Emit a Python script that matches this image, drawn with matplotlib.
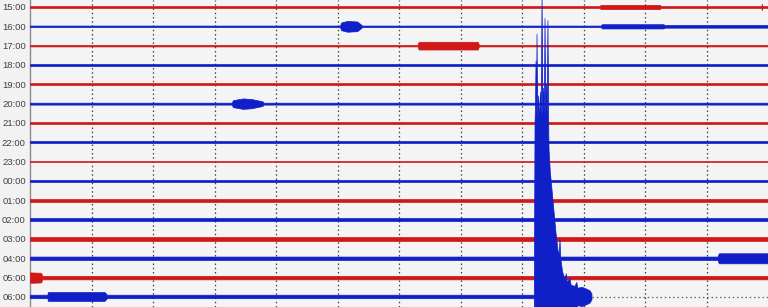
import matplotlib
matplotlib.use("Agg")
import matplotlib.pyplot as plt

# one helicorder line per hour, top to bottom
hours = ['15:00', '16:00', '17:00', '18:00', '19:00', '20:00', '21:00', '22:00',
         '23:00', '00:00', '01:00', '02:00', '03:00', '04:00', '05:00', '06:00']
trace_colors = ['#d01818', '#1020c8'] * 8

# background half-width of each line (in line-spacing units)
base_half = [0.05, 0.04, 0.04, 0.04, 0.05, 0.05, 0.06, 0.05,
             0.04, 0.05, 0.07, 0.07, 0.09, 0.09, 0.09, 0.09]

# bursts: (minute, half-width) breakpoints
burst_1500 = [(0, 0.05), (46.3, 0.05), (46.4, 0.11), (51.2, 0.11), (51.3, 0.05),
              (59.45, 0.05), (59.5, 0.16), (59.55, 0.05), (60, 0.05)]
burst_1600 = [(0, 0.04), (25.2, 0.04), (25.3, 0.2), (25.8, 0.28), (26.6, 0.25),
              (26.9, 0.1), (27.0, 0.04), (46.4, 0.04), (46.5, 0.11), (51.5, 0.11),
              (51.6, 0.07), (60, 0.07)]
burst_1700 = [(0, 0.04), (31.5, 0.04), (31.6, 0.2), (36.4, 0.2), (36.5, 0.04), (60, 0.04)]
burst_2000 = [(0, 0.05), (16.4, 0.05), (16.5, 0.18), (17.3, 0.27), (18.0, 0.24),
              (18.9, 0.12), (19.0, 0.05), (60, 0.05)]
burst_0400 = [(0, 0.09), (55.9, 0.09), (56.0, 0.26), (60, 0.26)]
burst_0500 = [(0, 0.27), (0.9, 0.25), (1.0, 0.09), (60, 0.09)]
burst_0600 = [(0, 0.09), (1.45, 0.09), (1.5, 0.23), (6.1, 0.23), (6.3, 0.09),
              (41.0, 0.09), (41.06, 9.0), (41.1, 10.0), (41.14, 12.2), (41.19, 9.4),
              (41.22, 13.6), (41.28, 9.2), (41.35, 10.4), (41.42, 9.0), (41.5, 10.6),
              (41.56, 9.3), (41.63, 15.6), (41.7, 9.4), (41.76, 10.8), (41.82, 9.3),
              (41.87, 14.4), (41.94, 9.6), (42.0, 11.0), (42.05, 9.2), (42.11, 14.3),
              (42.18, 8.4), (42.2, 7.6), (42.3, 6.5), (42.52, 5.0), (42.75, 3.4),
              (42.93, 2.4), (43.03, 2.2), (43.09, 2.95), (43.15, 2.0), (43.3, 1.3),
              (43.5, 0.9), (43.6, 1.2), (43.68, 0.75), (43.9, 0.95), (44.0, 0.6),
              (44.31, 0.55), (44.45, 0.75), (44.55, 0.45), (44.9, 0.5), (45.2, 0.42),
              (45.53, 0.32), (45.69, 0.15)]
bursts = {'15:00': burst_1500, '16:00': burst_1600, '17:00': burst_1700,
          '20:00': burst_2000, '04:00': burst_0400, '05:00': burst_0500,
          '06:00': burst_0600}

grid_minutes = [5, 10, 15, 20, 25, 30, 35, 40, 45, 50, 55]

fig = plt.figure(figsize=(7.68, 3.07), dpi=100, facecolor='#f2f2f2')
ax = fig.add_axes([30 / 768, 0, 1 - 30 / 768, 1])
ax.set_facecolor('#f4f4f4')

for gm in grid_minutes:
    ax.axvline(gm, color='#404040', ls=(0, (1.2, 2.2)), lw=0.9, zorder=1)

for i, (hr, col) in enumerate(zip(hours, trace_colors)):
    pts = bursts.get(hr, [(0, base_half[i]), (60, base_half[i])])
    xs = [p[0] for p in pts]
    ws = [p[1] for p in pts]
    ax.fill_between(xs, [i - w for w in ws], [i + w for w in ws],
                    color=col, lw=0.5, ec=col, zorder=3)

# last line has no data after the event: dotted baseline
last = burst_0600[-1][0]
ax.plot([last, 60], [15, 15], color='#606060', ls=(0, (1.2, 2.2)), lw=0.9, zorder=2)

ax.set_xlim(0, 60)
ax.set_ylim(15.52, -0.362)
ax.set_xticks([])
ax.set_yticks(range(len(hours)))
ax.set_yticklabels(hours, fontsize=6.8, color='#404040', family='Liberation Sans')
ax.tick_params(axis='y', length=0, pad=3)
for s in ['top', 'right', 'bottom']:
    ax.spines[s].set_visible(False)
ax.spines['left'].set_color('#8a8a8a')
ax.spines['left'].set_linewidth(1.0)

fig.savefig('out.png', dpi=100, facecolor=fig.get_facecolor())
